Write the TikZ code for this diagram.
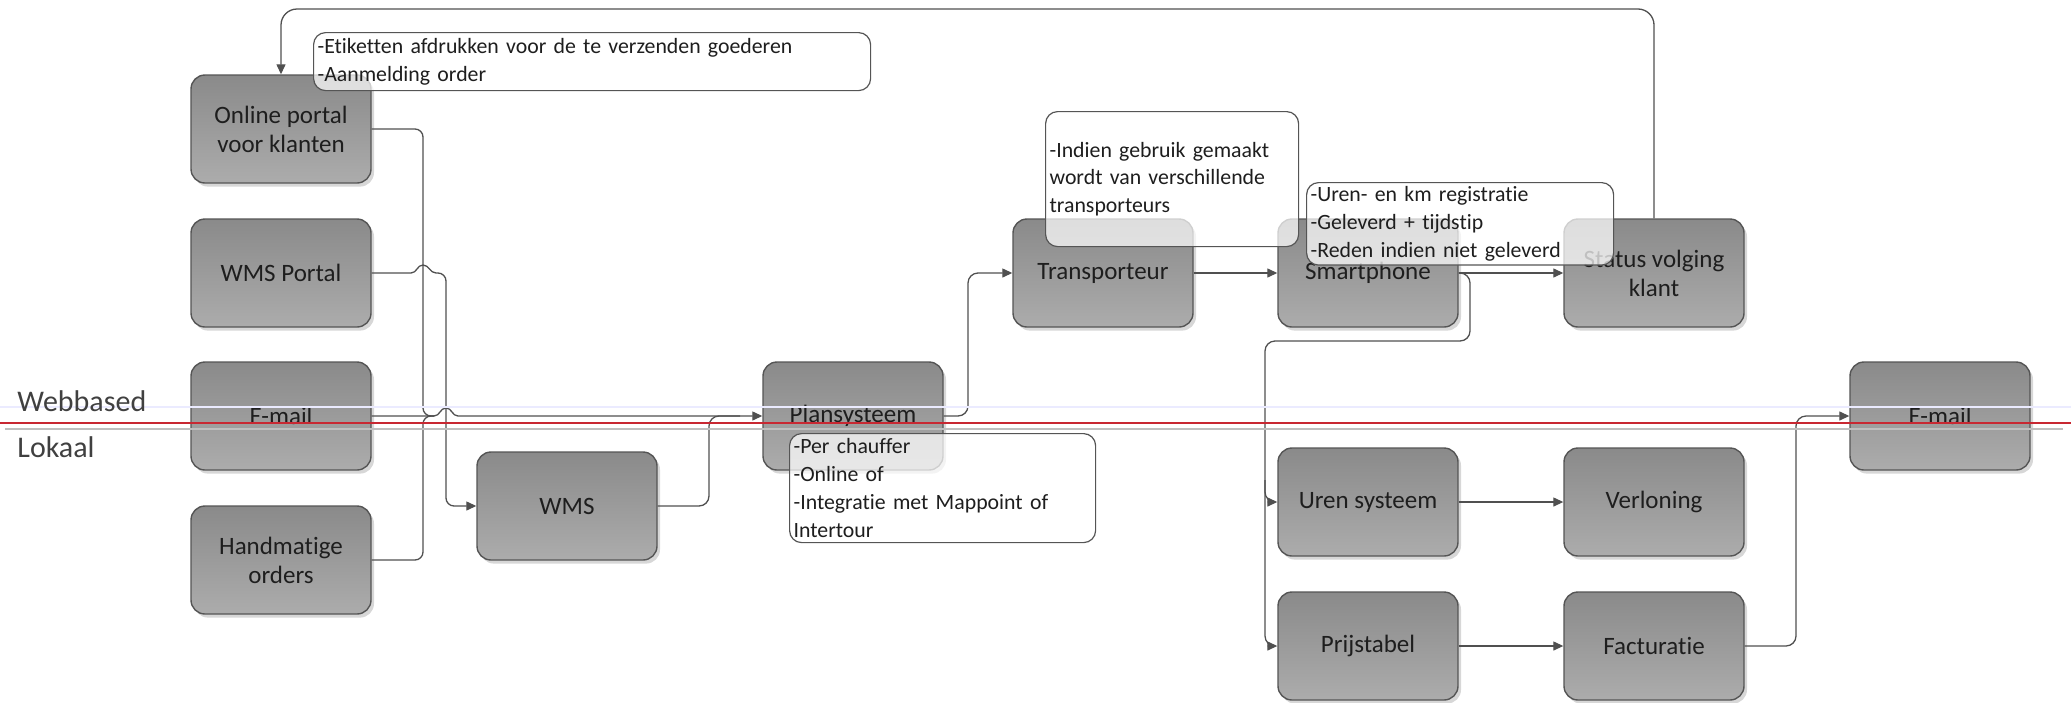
\documentclass[tikz,border=0pt]{standalone}
\usepackage{fontspec}
\setmainfont{Carlito}[Ligatures=NoCommon]
\usetikzlibrary{arrows.meta,shadows}
\definecolor{boxline}{RGB}{85,85,85}
\definecolor{boxtop}{RGB}{138,138,138}
\definecolor{boxbot}{RGB}{172,172,172}
\definecolor{connc}{RGB}{80,80,80}
\definecolor{txt}{RGB}{30,30,30}
\definecolor{redl}{RGB}{200,40,50}
\tikzset{
  procbox/.style={draw=boxline, line width=0.7pt, rounded corners=7pt,
    minimum width=90pt, minimum height=54pt, top color=boxtop, bottom color=boxbot,
    drop shadow={shadow xshift=1.5pt, shadow yshift=-1.8pt, fill=black!35, opacity=0.45},
    align=center, text=txt, font=\fontsize{12.5}{14.5}\selectfont, inner sep=2pt},
  notebox/.style={draw=boxline, line width=0.6pt, rounded corners=6pt, fill=white,
    fill opacity=0.72, text opacity=1, align=left, anchor=north west, inner sep=2pt,
    text=txt, font=\fontsize{10.9}{13.9}\selectfont},
  conn/.style={draw=connc, line width=0.65pt},
  arr/.style={-{Triangle[length=5pt,width=4.5pt]}},
  lanelabel/.style={anchor=base west, text=txt!85, font=\fontsize{15}{18}\selectfont, inner sep=0pt}
}
\begin{document}
\begin{tikzpicture}[x=0.5pt,y=-0.5pt]
\useasboundingbox (0,0) rectangle (2071,702);

% boxes
\node[procbox] (online) at (281,129) {Online portal\\voor klanten};
\node[procbox] (wmsp)   at (281,273) {WMS Portal};
\node[procbox] (email)  at (281,416) {E-mail};
\node[procbox] (hand)   at (281,560) {Handmatige\\orders};
\node[procbox] (wms)    at (567,506) {WMS};
\node[procbox] (plan)   at (853,416) {Plansysteem};
\node[procbox] (transp) at (1103,273) {Transporteur};
\node[procbox] (smart)  at (1368,273) {Smartphone};
\node[procbox] (status) at (1654,273) {Status volging\\klant};
\node[procbox] (emailr) at (1940,416) {E-mail};
\node[procbox] (uren)   at (1368,502) {Uren systeem};
\node[procbox] (verl)   at (1654,502) {Verloning};
\node[procbox] (prijs)  at (1368,646) {Prijstabel};
\node[procbox] (fact)   at (1654,646) {Facturatie};

% connectors
\draw[conn,arr,rounded corners=8pt] (status.north) -- (1654,9) -- (281,9) -- (online.north);
\draw[conn,rounded corners=4pt] (online.east) -- (423,129) -- (423,416) -- (434,416);
\draw[conn,rounded corners=4pt] (hand.east) -- (423,560) -- (423,416) -- (434,416);
\draw[conn,arr] (wmsp.east) -- (411,273) .. controls (417,273) and (417,265) .. (423,265)
   .. controls (429,265) and (430,273) .. (436,273) [rounded corners=4pt] -- (446,273) -- (446,506) -- (wms.west);
\draw[conn,arr] (email.east) -- (434,416) .. controls (440,416) and (440,408) .. (446,408)
   .. controls (452,408) and (452,416) .. (458,416) -- (plan.west);
\draw[conn,rounded corners=5pt] (wms.east) -- (709,506) -- (709,416) -- (740,416);
\draw[conn,arr,rounded corners=5pt] (plan.east) -- (968,416) -- (968,273) -- (transp.west);
\draw[conn,arr] (transp.east) -- (smart.west);
\draw[conn,arr] (smart.east) -- (status.west);
\draw[conn,arr,rounded corners=5pt] (smart.east) -- (1470,273) -- (1470,341) -- (1265,341) -- (1265,502) -- (uren.west);
\draw[conn,arr,rounded corners=5pt] (1265,480) -- (1265,646) -- (prijs.west);
\draw[conn,arr] (uren.east) -- (verl.west);
\draw[conn,arr] (prijs.east) -- (fact.west);
\draw[conn,arr,rounded corners=5pt] (fact.east) -- (1796,646) -- (1796,416) -- (emailr.west);

% lane lines
\draw[blue!8, line width=0.6pt] (0,407) -- (2071,407);
\draw[black!25, line width=0.6pt] (5,429) -- (2063,429);
\draw[redl, line width=1pt] (0,423) -- (2071,423);
\node[lanelabel] (web) at (17,411) {Webbased};
\node[lanelabel] (lok) at (17,457) {Lokaal};

% notes
\node[notebox, text width=274.5pt, minimum height=29pt] (n1) at (313,32)
  {-Etiketten afdrukken voor de te verzenden goederen\\-Aanmelding order};
\node[notebox, text width=122.5pt, minimum height=67.5pt] (n2) at (1045,111)
  {-Indien gebruik gemaakt\\wordt van verschillende\\transporteurs};
\node[notebox, text width=149.5pt, minimum height=38.5pt] (n3) at (1306,182)
  {-Uren- en km registratie\\-Geleverd + tijdstip\\-Reden indien niet geleverd};
\node[notebox, text width=149pt, minimum height=54.5pt] (n4) at (789,433)
  {-Per chauffer\\-Online of\\-Integratie met Mappoint of\\Intertour};
\end{tikzpicture}
\end{document}
